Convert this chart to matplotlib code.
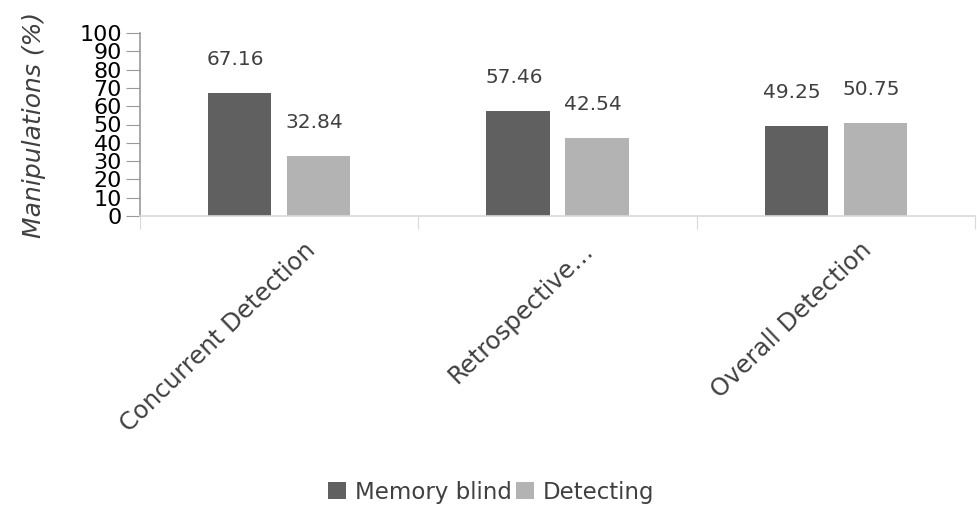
import numpy as np
import matplotlib.pyplot as plt
import matplotlib.transforms as mtransforms

categories = ['Concurrent Detection', 'Retrospective…', 'Overall Detection']
memory_blind = [67.16, 57.46, 49.25]
detecting = [32.84, 42.54, 50.75]
series_names = ['Memory blind', 'Detecting']
yticks = list(range(0, 101, 10))

dark = '#606060'
light = '#b3b3b3'
txt = '#404040'

plt.rcParams['font.family'] = ['DejaVu Sans']

fig = plt.figure(figsize=(9.78, 5.13), dpi=100)
ax = fig.add_axes([140 / 978, 1 - 216 / 513, 835 / 978, 183 / 513])

x = np.arange(len(categories))
w = 0.227
off = 0.142
b1 = ax.bar(x - off, memory_blind, w, color=dark, label=series_names[0])
b2 = ax.bar(x + off, detecting, w, color=light, label=series_names[1])

for bars, vals in ((b1, memory_blind), (b2, detecting)):
    for b, v in zip(bars, vals):
        ax.annotate(f'{v:.2f}', (b.get_x() + b.get_width() / 2, v),
                    xytext=(-3, 24), textcoords='offset points',
                    ha='center', va='center', fontsize=14.5, color=txt)

ax.set_xlim(-0.5, len(categories) - 0.5)
ax.set_ylim(0, 100)
ax.set_yticks(yticks)
ax.set_yticklabels([str(t) for t in yticks], fontsize=16, color='black')
ax.tick_params(axis='y', length=10, color='#999999', pad=3)

ax.set_xticks(np.arange(len(categories) + 1) - 0.5, minor=False)
ax.set_xticklabels([])
ax.tick_params(axis='x', which='major', length=9, color='#d9d9d9')
ax.set_xticks(x, minor=True)
ax.set_xticklabels(categories, minor=True, rotation=44, ha='right',
                   rotation_mode='anchor', fontsize=17.5, color=txt)
ax.tick_params(axis='x', which='minor', length=0, pad=16)
shift = mtransforms.ScaledTranslation(24 / 100, 0, fig.dpi_scale_trans)
for lab in ax.get_xticklabels(minor=True):
    lab.set_transform(lab.get_transform() + shift)

for s in ('top', 'right'):
    ax.spines[s].set_visible(False)
ax.spines['left'].set_color('#999999')
ax.spines['bottom'].set_color('#d9d9d9')
ax.spines['left'].set_linewidth(1.2)
ax.spines['bottom'].set_linewidth(1.2)

ax.set_ylabel('Manipulations (%)', fontsize=18, style='italic', color=txt, labelpad=24)

fig.legend(handles=[b1, b2], loc='center', bbox_to_anchor=(491 / 978, 1 - 492 / 513),
           ncol=2, frameon=False, fontsize=16.5, handlelength=0.8, handleheight=0.8,
           handletextpad=0.35, columnspacing=0.2, labelcolor=txt)

fig.savefig('out.png', dpi=100)
